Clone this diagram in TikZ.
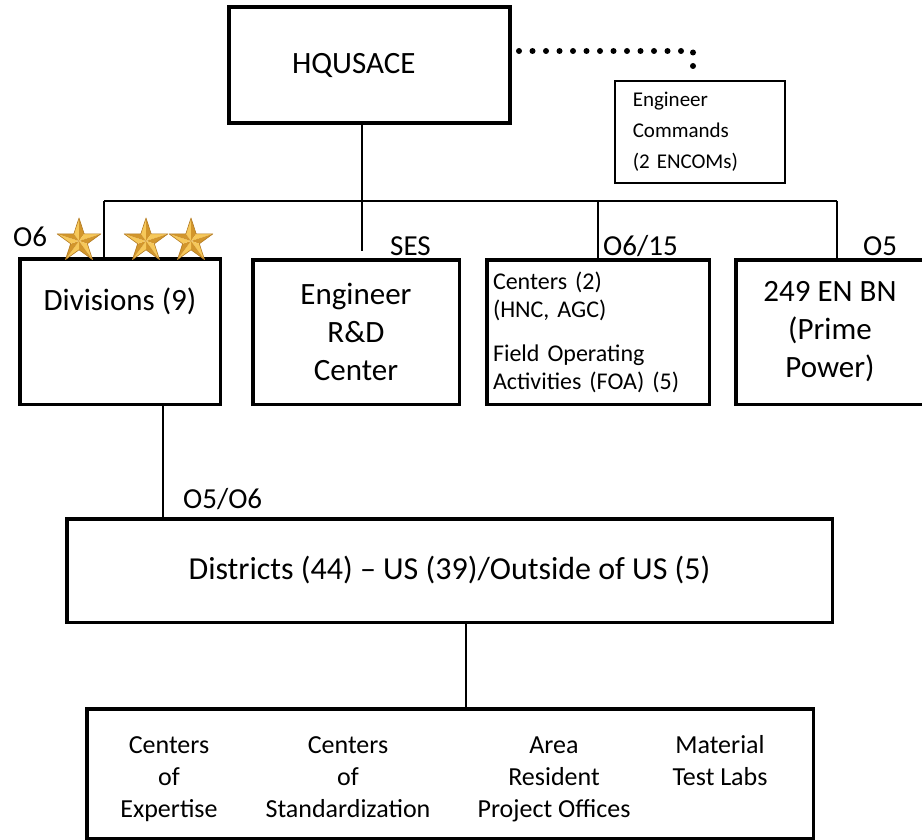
\documentclass[tikz,border=0pt]{standalone}
\usepackage{fontspec}
\setmainfont{Carlito}
\usepackage{tikz}

\definecolor{starlight}{HTML}{F6C85A}
\definecolor{stardark}{HTML}{D2962C}
\definecolor{staredge}{HTML}{B27A22}

\begin{document}
\begin{tikzpicture}[x=1pt,y=-1pt,
    box/.style={draw,rectangle,line width=3.5pt,inner sep=0pt},
    link/.style={line width=2.2pt},
    dotline/.style={line width=6pt,line cap=round,dash pattern=on 0pt off 13.5pt},
    big/.style={font=\fontsize{31}{38}\selectfont,align=center},
    rank/.style={font=\fontsize{29}{35}\selectfont,inner sep=0pt,anchor=base west},
    unit/.style={font=\fontsize{26}{32}\selectfont,align=center,inner sep=0pt},
    gold star/.pic={
      \foreach \a in {-90,-18,54,126,198}{
        \fill[starlight] (0,0) -- (\a:23) -- (\a-36:8.8) -- cycle;
        \fill[stardark] (0,0) -- (\a:23) -- (\a+36:8.8) -- cycle;
      }
      \draw[staredge,line width=0.6pt,line join=round] (-90:23)
        \foreach \a in {-90,-18,54,126,198}{ -- (\a:23) -- (\a+36:8.8)} -- cycle;
    }]

  \useasboundingbox (0,0) rectangle (922,840);
  \clip (0,0) rectangle (922,840);

  \node[box,line width=4pt,big,minimum width=281pt,minimum height=116pt,
        text width=155pt,align=left] (hq) at (369.5,65) {HQUSACE};
  \node[box,line width=2.5pt,minimum width=170pt,minimum height=102pt,
        text width=134.5pt,align=left,font=\fontsize{21}{31}\selectfont]
        (cmds) at (700,132) {Engineer\\Commands\\(2 ENCOMs)};

  \node[box,minimum width=200.5pt,minimum height=145.5pt,
        label={[big,anchor=base,yshift=-53.5pt]north:Divisions (9)}]
        (div) at (120,331.5) {};
  \node[box,big,minimum width=206.5pt,minimum height=144.5pt]
        (rd) at (356,332) {Engineer\\R\&D\\Center};
  \node[box,minimum width=222.5pt,minimum height=144.5pt,text width=210pt,
        align=left,font=\fontsize{24}{28}\selectfont]
        (ctr) at (598,332) {Centers (2)\\(HNC, AGC)\\[16pt]Field Operating\\Activities (FOA) (5)};
  \node[box,big,minimum width=188.5pt,minimum height=144.5pt]
        (bn) at (830,332) {249 EN BN\\(Prime\\Power)};

  \node[box,big,font=\fontsize{32}{38}\selectfont,minimum width=765.5pt,minimum height=103.5pt]
        (dist) at (449.5,570.5) {Districts (44) -- US (39)/Outside of US (5)};
  \node[box,minimum width=726.5pt,minimum height=129.5pt] (units) at (450,773.5) {};
  \node[unit] (expertise) at (169,779) {Centers\\of\\Expertise};
  \node[unit] (standard) at (348,777) {Centers\\of\\Standardization};
  \node[unit] (offices) at (554,779) {Area\\Resident\\Project Offices};
  \node[unit] (labs) at (720,761) {Material\\Test Labs};

  \node[rank] (o6) at (13,247) {O6};
  \node[rank] (ses) at (390,255) {SES};
  \node[rank] (o615) at (603,255) {O6/15};
  \node[rank] (o5) at (863,255) {O5};
  \node[rank] (o5o6) at (183,508) {O5/O6};

  \coordinate (trunk) at (362,201);
  \coordinate (barL) at (104,201);
  \coordinate (barR) at (837,201);
  \coordinate (cmdbend) at (693,51);

  \draw[link] (barL) -- (barR);
  \draw[link] (hq.south -| trunk) -- (trunk);
  \draw[link] (barL) -- (barL |- div.north);
  \draw[link,shorten >=7pt] (trunk) -- (trunk |- rd.north);
  \draw[link] (barR -| ctr.north) -- (ctr.north);
  \draw[link] (barR) -- (barR |- bn.north);
  \draw[link] ([xshift=43pt]div.south) -- ([xshift=43pt]div.south |- dist.north);
  \draw[link] ([xshift=16.5pt]dist.south) -- ([xshift=16.5pt]dist.south |- units.north);
  \draw[dotline,shorten <=7pt,shorten >=8pt] (hq.east |- cmdbend) -- (cmdbend) -- (cmdbend |- cmds.north);

  \foreach \sx in {79,146,191}
    \pic at (\sx,241) {gold star};

\end{tikzpicture}
\end{document}
